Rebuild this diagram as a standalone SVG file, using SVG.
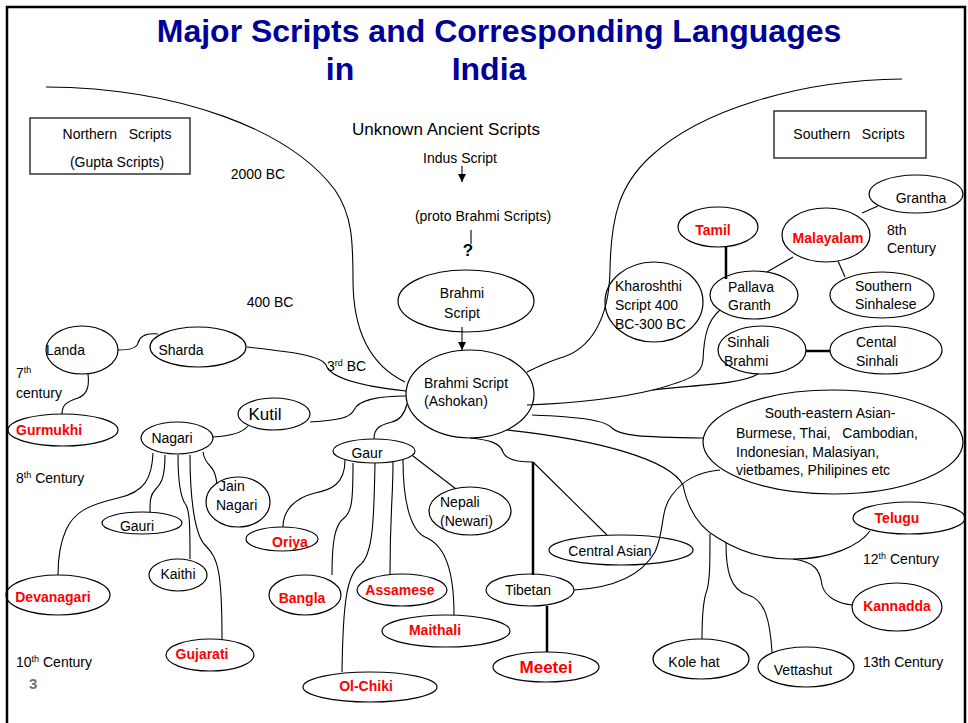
<svg xmlns="http://www.w3.org/2000/svg" width="968" height="723" viewBox="0 0 968 723">
<style>
text{font-family:"Liberation Sans",Arial,sans-serif;font-size:14px;fill:#000}
.t{font-weight:bold;font-size:32px;fill:#000099;text-anchor:middle}
.m{text-anchor:middle}
.r{fill:#ff0000;font-weight:bold}
.big{font-size:17px}
.pre{white-space:pre}
ellipse,rect{fill:none;stroke:#000;stroke-width:1.2}
#connectors path,#connectors line{fill:none;stroke:#000;stroke-width:1.1}
#connectors .thick{stroke-width:2.5}
</style>
<defs>
<marker id="ah" viewBox="0 0 8 8" markerWidth="8" markerHeight="8" refX="8" refY="4" orient="auto" markerUnits="userSpaceOnUse"><path d="M0,0 L8,4 L0,8 z" fill="#000"/></marker>
</defs>
<rect width="968" height="723" fill="#fff" style="stroke:none"/>
<path d="M7,723 V7 H965 V723" fill="none" stroke="#000" stroke-width="2.5"/>

<g id="title">
<text class="t" x="499" y="42">Major Scripts and Corresponding Languages</text>
<text class="t" x="340" y="80">in</text>
<text class="t" x="489" y="80">India</text>
</g>

<g id="connectors">
<path d="M46,87 C180,88 290,130 335,190 C352,215 353,240 353,280 C353,330 370,365 405,382"/>
<path d="M902,79 C800,80 700,110 650,157 C620,185 611,215 610,270 C609,320 590,350 560,358 C545,363 535,368 527,372"/>
<line x1="462" y1="166" x2="462" y2="182" marker-end="url(#ah)"/>
<line x1="471" y1="230" x2="471" y2="244"/>
<line x1="462" y1="327" x2="462" y2="350" marker-end="url(#ah)"/>
<path d="M118,350 C130,350 137,348 138,343 C140,335 148,333 158,334"/>
<path d="M88,374 C90,390 85,395 78,398 C66,402 62,405 62,414"/>
<path d="M247,347 C290,352 320,355 326,365 C330,378 360,386 406,391"/>
<path d="M310,422 C340,420 350,418 354,410 C358,400 380,396 406,396"/>
<path d="M213,437 C232,436 243,432 248,426"/>
<path d="M374,439 C374,428 380,425 392,422 C400,420 405,412 407,404"/>
<line x1="413" y1="456" x2="456" y2="489"/>
<path d="M470,438 C490,440 500,443 503,452 C506,460 520,462 533,462"/>
<line class="thick" x1="533" y1="462" x2="533" y2="575"/>
<line x1="533" y1="462" x2="607" y2="535"/>
<line class="thick" x1="547" y1="606" x2="547" y2="652"/>
<path d="M574,590 C610,588 640,578 655,552 C665,530 660,510 672,495 C685,478 700,472 720,470"/>
<path d="M532,415 C580,417 605,420 612,428 C620,436 640,437 703,438"/>
<path d="M527,405 C580,403 620,398 653,390 C690,385 740,385 758,374"/>
<path d="M653,390 C690,380 702,375 703,360 C704,335 708,320 720,310"/>
<line class="thick" x1="726" y1="247" x2="726" y2="279"/>
<line x1="793" y1="257" x2="767" y2="272"/>
<line x1="838" y1="261" x2="845" y2="277"/>
<line x1="862" y1="213" x2="878" y2="206"/>
<line class="thick" x1="806" y1="351" x2="830" y2="351"/>
<path d="M507,430 C600,440 670,460 683,485 C688,510 700,528 718,538 C740,552 765,559 790,559 C830,560 860,545 870,531"/>
<path d="M793,559 C815,562 820,570 822,585 C825,598 840,604 853,605"/>
<path d="M710,534 C710,560 710,580 707,590 C703,600 702,620 702,639"/>
<path d="M726,543 C726,570 730,590 748,595 C765,600 770,620 772,652"/>
<path d="M153,453 C152,478 145,492 118,498 C88,505 74,512 66,530 C60,543 58,560 58,575"/>
<path d="M165,455 C165,480 160,485 155,490 C150,495 150,502 150,512"/>
<path d="M178,455 C178,490 182,500 186,505 C190,512 190,530 190,559"/>
<path d="M190,455 C190,500 195,535 205,545 C218,558 222,570 222,639"/>
<path d="M203,452 C204,460 208,464 211,467 C215,471 216,476 217,484"/>
<path d="M345,460 C345,485 330,490 315,493 C295,498 283,510 283,527"/>
<path d="M353,463 C353,500 352,512 344,518 C335,525 332,540 332,575"/>
<path d="M375,463 C374,520 373,555 360,565 C347,575 343,600 342,672"/>
<path d="M393,462 C393,500 390,510 390,575"/>
<path d="M403,460 C403,500 410,530 425,537 C445,545 454,570 454,615"/>
</g>

<g id="northern"><rect x="30" y="118" width="160" height="56"/><text class="m pre" x="117" y="139">Northern   Scripts</text><text class="m" x="117" y="167">(Gupta Scripts)</text></g>
<g id="southern"><rect x="774" y="111" width="152" height="47"/><text class="m pre" x="849" y="139">Southern   Scripts</text></g>
<g id="unknown"><text class="m big" x="446" y="135">Unknown Ancient Scripts</text></g>
<g id="indus"><text class="m" x="460" y="163">Indus Script</text></g>
<g id="proto"><text class="m" x="483" y="221">(proto Brahmi Scripts)</text><text class="m big" x="468" y="256" style="font-weight:bold">?</text></g>
<g id="labels-time">
<text class="m" x="258" y="179">2000 BC</text>
<text class="m" x="270" y="307">400 BC</text>
<text x="327" y="371">3<tspan font-size="9" dy="-5">rd</tspan><tspan dy="5"> BC</tspan></text>
<text x="16" y="378">7<tspan font-size="9" dy="-5">th</tspan></text>
<text x="16" y="398">century</text>
<text x="16" y="483">8<tspan font-size="9" dy="-5">th</tspan><tspan dy="5"> Century</tspan></text>
<text x="16" y="667">10<tspan font-size="9" dy="-5">th</tspan><tspan dy="5"> Century</tspan></text>
<text x="887" y="235">8th</text><text x="887" y="253">Century</text>
<text x="863" y="564">12<tspan font-size="9" dy="-5">th</tspan><tspan dy="5"> Century</tspan></text>
<text x="863" y="667">13th Century</text>
<text x="29" y="689" style="font-weight:bold;font-size:15px;fill:#7f6f63">3</text>
</g>
<g id="brahmi"><ellipse cx="466" cy="301" rx="68" ry="31"/><text class="m" x="462" y="298">Brahmi</text><text class="m" x="462" y="318">Script</text></g>
<g id="ashokan"><ellipse cx="470" cy="394" rx="64" ry="44"/><text x="424" y="388">Brahmi Script</text><text x="424" y="406">(Ashokan)</text></g>
<g id="landa"><ellipse cx="82" cy="350" rx="36" ry="24"/><text x="46" y="355">Landa</text></g>
<g id="sharda"><ellipse cx="198" cy="347" rx="48" ry="20"/><text class="m" x="181" y="355">Sharda</text></g>
<g id="gurmukhi"><ellipse cx="63" cy="430" rx="55" ry="16"/><text class="r" x="16" y="435">Gurmukhi</text></g>
<g id="kutil"><ellipse cx="274" cy="414" rx="36" ry="16"/><text class="m big" x="265" y="420">Kutil</text></g>
<g id="nagari"><ellipse cx="177" cy="438" rx="36" ry="16"/><text class="m" x="172" y="443">Nagari</text></g>
<g id="gaur"><ellipse cx="374" cy="451" rx="41" ry="12"/><text class="m" x="367" y="458">Gaur</text></g>
<g id="jain"><ellipse cx="238" cy="502" rx="32" ry="25"/><text x="219" y="491">Jain</text><text x="216" y="510">Nagari</text></g>
<g id="gauri"><ellipse cx="142" cy="523" rx="40" ry="11"/><text class="m" x="137" y="531">Gauri</text></g>
<g id="kaithi"><ellipse cx="178" cy="575" rx="29" ry="16"/><text class="m" x="178" y="579">Kaithi</text></g>
<g id="devanagari"><ellipse cx="58" cy="595" rx="52" ry="20"/><text class="m r" x="53" y="602">Devanagari</text></g>
<g id="gujarati"><ellipse cx="210" cy="655" rx="44" ry="16"/><text class="m r" x="202" y="659">Gujarati</text></g>
<g id="nepali"><ellipse cx="470" cy="511" rx="41" ry="24"/><text x="440" y="507">Nepali</text><text x="440" y="526">(Newari)</text></g>
<g id="oriya"><ellipse cx="282" cy="539" rx="36" ry="12"/><text class="m r" x="290" y="547">Oriya</text></g>
<g id="bangla"><ellipse cx="305" cy="595" rx="36" ry="20"/><text class="m r" x="302" y="603">Bangla</text></g>
<g id="assamese"><ellipse cx="402" cy="590" rx="45" ry="16"/><text class="m r" x="400" y="595">Assamese</text></g>
<g id="maithali"><ellipse cx="446" cy="631" rx="64" ry="16"/><text class="m r" x="435" y="635">Maithali</text></g>
<g id="olchiki"><ellipse cx="370" cy="687" rx="67" ry="15"/><text class="m r" x="366" y="691">Ol-Chiki</text></g>
<g id="central-asian"><ellipse cx="621" cy="550" rx="72" ry="15"/><text class="m" x="610" y="556">Central Asian</text></g>
<g id="tibetan"><ellipse cx="530" cy="590" rx="44" ry="16"/><text class="m" x="528" y="595">Tibetan</text></g>
<g id="meetei"><ellipse cx="546" cy="667" rx="53" ry="15"/><text class="m r big" x="546" y="673">Meetei</text></g>
<g id="kharoshthi"><ellipse cx="654" cy="302" rx="49" ry="40"/><text x="615" y="291">Kharoshthi</text><text x="615" y="310">Script 400</text><text x="615" y="329">BC-300 BC</text></g>
<g id="pallava"><ellipse cx="754" cy="295" rx="44" ry="24"/><text x="728" y="292">Pallava</text><text x="728" y="310">Granth</text></g>
<g id="tamil"><ellipse cx="718" cy="227" rx="40" ry="20"/><text class="m r" x="713" y="235">Tamil</text></g>
<g id="malayalam"><ellipse cx="826" cy="235" rx="44" ry="27"/><text class="m r" x="828" y="243">Malayalam</text></g>
<g id="grantha"><ellipse cx="916" cy="194" rx="47" ry="19"/><text class="m" x="921" y="203">Grantha</text></g>
<g id="southern-sinhalese"><ellipse cx="882" cy="295" rx="52" ry="23"/><text x="855" y="291">Southern</text><text x="855" y="309">Sinhalese</text></g>
<g id="sinhali-brahmi"><ellipse cx="762" cy="350" rx="44" ry="24"/><text x="727" y="347">Sinhali</text><text x="724" y="366">Brahmi</text></g>
<g id="cental-sinhali"><ellipse cx="886" cy="350" rx="56" ry="24"/><text x="856" y="347">Cental</text><text x="856" y="366">Sinhali</text></g>
<g id="se-asian"><ellipse cx="833" cy="442" rx="130" ry="52"/><text class="m" x="830" y="418">South-eastern Asian-</text><text class="pre" x="736" y="438">Burmese, Thai,   Cambodian,</text><text x="736" y="457">Indonesian, Malasiyan,</text><text x="736" y="475">vietbames, Philipines etc</text></g>
<g id="telugu"><ellipse cx="909" cy="518" rx="56" ry="16"/><text class="m r" x="897" y="523">Telugu</text></g>
<g id="kannadda"><ellipse cx="897" cy="607" rx="45" ry="24"/><text class="m r" x="897" y="611">Kannadda</text></g>
<g id="kole-hat"><ellipse cx="701" cy="659" rx="48" ry="20"/><text class="m" x="694" y="667">Kole hat</text></g>
<g id="vettashut"><ellipse cx="806" cy="667" rx="48" ry="20"/><text class="m" x="803" y="675">Vettashut</text></g>
</svg>
